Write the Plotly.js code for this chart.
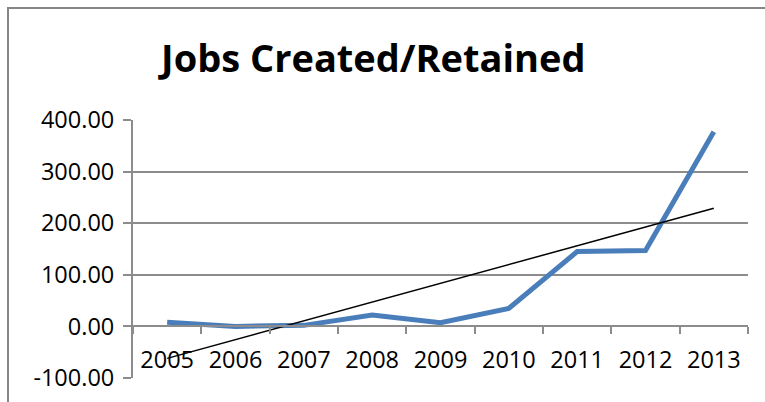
<!DOCTYPE html>
<html>
<head>
<meta charset="utf-8">
<script src="https://cdn.plot.ly/plotly-3.0.1.min.js"></script>
<style>
html,body{margin:0;padding:0;background:#fff;}
#frame{position:absolute;left:7px;top:7px;width:758px;height:395px;border-top:2px solid #868686;border-left:2px solid #868686;box-sizing:border-box;}
#chart{position:absolute;left:0;top:0;width:765px;height:402px;}
</style>
</head>
<body>
<div id="frame"></div>
<div id="chart"></div>
<script>
var years = ['2005','2006','2007','2008','2009','2010','2011','2012','2013'];
var jobs = [8, 0, 2, 22, 7, 35, 145, 147, 377];
var trendYears = ['2005','2013'];
var trendValues = [-62, 229];
var yTicks = [-100, 0, 100, 200, 300, 400];
var yTickText = yTicks.map(function (v) { return v.toFixed(2); });

var gray = '#8c8c8c';
var font = 'Open Sans, Lato, sans-serif';

var data = [
  {x: years, y: jobs, type: 'scatter', mode: 'lines',
   line: {color: '#4a7ebb', width: 5}, hoverinfo: 'x+y'},
  {x: trendYears, y: trendValues, type: 'scatter', mode: 'lines',
   line: {color: '#000000', width: 1.5}}
];

var layout = {
  width: 765, height: 402,
  margin: {l: 133, r: 17, t: 120, b: 24},
  paper_bgcolor: 'rgba(0,0,0,0)',
  plot_bgcolor: 'rgba(0,0,0,0)',
  showlegend: false,
  title: {text: '<b>Jobs Created/Retained</b>', xref: 'container', yref: 'container',
          x: 0.488, y: 0.855, xanchor: 'center', yanchor: 'middle',
          font: {family: font, size: 38, color: '#000'}},
  xaxis: {
    type: 'category', categoryorder: 'array', categoryarray: years,
    range: [-0.5, 8.5], anchor: 'free', position: 0.2,
    showgrid: false, showline: true, linecolor: gray, linewidth: 2,
    ticks: 'outside', tickson: 'boundaries', ticklen: 7, tickcolor: gray, tickwidth: 2,
    ticklabelstandoff: 12,
    tickfont: {family: font, size: 23.5, color: '#000'}
  },
  yaxis: {
    range: [-100, 400], tickvals: yTicks, ticktext: yTickText,
    showgrid: true, gridcolor: gray, gridwidth: 2,
    zeroline: false, showline: true, linecolor: gray, linewidth: 2,
    ticks: 'outside', ticklen: 8, tickcolor: gray, tickwidth: 2,
    ticklabelstandoff: 4,
    tickfont: {family: font, size: 23.5, color: '#000'}
  }
};

Plotly.newPlot('chart', data, layout, {displayModeBar: false, staticPlot: true});
</script>
</body>
</html>
